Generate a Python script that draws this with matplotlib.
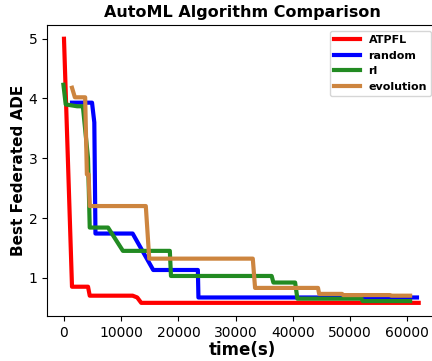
import matplotlib
matplotlib.use("Agg")
import matplotlib.pyplot as plt

# best ADE found so far vs wall-clock time, per search algorithm
atpfl_t = [0, 1400, 4200, 4500, 12000, 12800, 13500, 62000]
atpfl_ade = [5.0, 0.85, 0.85, 0.70, 0.70, 0.67, 0.58, 0.58]

random_t = [1400, 4900, 5300, 5500, 12000, 15600, 23400, 23500, 61700]
random_ade = [3.93, 3.93, 3.6, 1.74, 1.74, 1.13, 1.13, 0.67, 0.67]

rl_t = [-100, 300, 2300, 3300, 4200, 4500, 7700, 10300, 18500, 18700,
        36300, 36600, 40400, 40800, 52000, 52200, 60500]
rl_ade = [4.23, 3.9, 3.87, 3.87, 3.0, 1.84, 1.84, 1.45, 1.45, 1.03,
          1.03, 0.92, 0.92, 0.65, 0.65, 0.61, 0.61]

evo_t = [1400, 1900, 3700, 4000, 4300, 4500, 14300, 14900, 33000, 33400,
         44400, 44600, 48600, 48800, 57000, 57200, 60500]
evo_ade = [4.18, 4.02, 4.02, 2.73, 2.73, 2.2, 2.2, 1.32, 1.32, 0.83,
           0.83, 0.73, 0.73, 0.71, 0.71, 0.70, 0.70]

fig = plt.figure(figsize=(4.32, 3.61), dpi=100)
ax = fig.add_axes([47 / 432, 45 / 361, 390 / 432, 291 / 361])

ax.plot(atpfl_t, atpfl_ade, color="red", linewidth=3, label="ATPFL")
ax.plot(random_t, random_ade, color="blue", linewidth=3, label="random")
ax.plot(rl_t, rl_ade, color="forestgreen", linewidth=3, label="rl")
ax.plot(evo_t, evo_ade, color="peru", linewidth=3, label="evolution")

ax.set_xlim(-2970, 65200)
ax.set_ylim(0.36, 5.23)
ax.set_xticks([0, 10000, 20000, 30000, 40000, 50000, 60000])
ax.set_yticks([1, 2, 3, 4, 5])
ax.tick_params(labelsize=10)

ax.set_title("AutoML Algorithm Comparison", fontsize=11.5, fontweight="bold")
ax.set_xlabel("time(s)", fontsize=12, fontweight="bold", labelpad=1)
ax.set_ylabel("Best Federated ADE", fontsize=11, fontweight="bold", labelpad=2)
ax.legend(loc="upper right", prop={"weight": "bold", "size": 8}, handlelength=2.3)

fig.savefig("out.png", dpi=100)
